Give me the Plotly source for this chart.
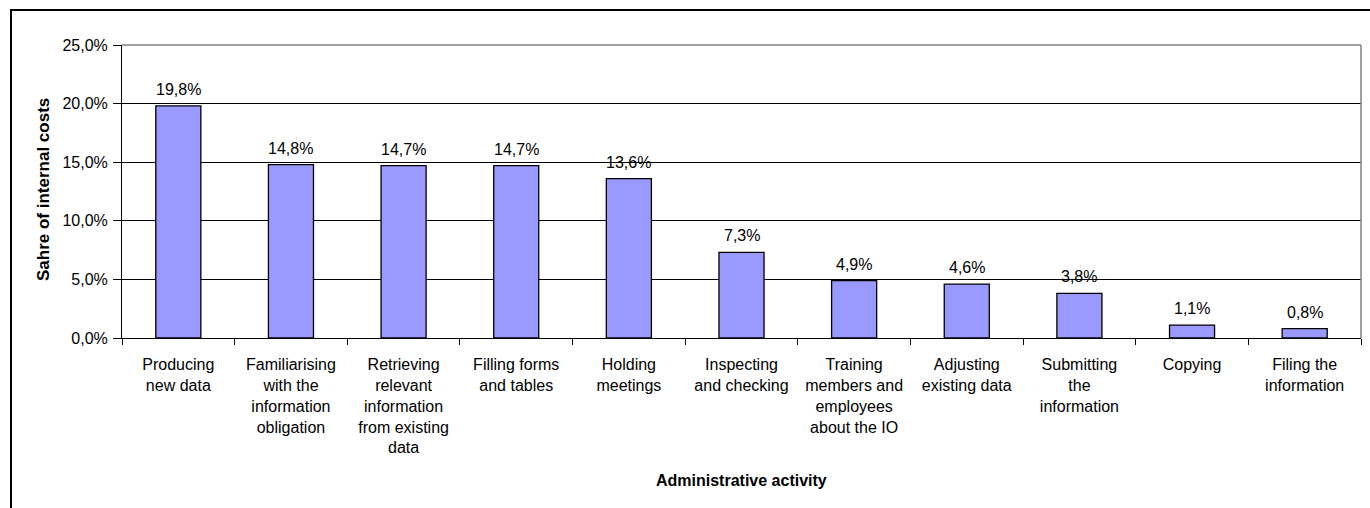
import plotly.graph_objects as go

# Share of internal costs by administrative activity
activities = [
    "Producing<br>new data",
    "Familiarising<br>with the<br>information<br>obligation",
    "Retrieving<br>relevant<br>information<br>from existing<br>data",
    "Filling forms<br>and tables",
    "Holding<br>meetings",
    "Inspecting<br>and checking",
    "Training<br>members and<br>employees<br>about the IO",
    "Adjusting<br>existing data",
    "Submitting<br>the<br>information",
    "Copying",
    "Filing the<br>information",
]
shares = [19.8, 14.8, 14.7, 14.7, 13.6, 7.3, 4.9, 4.6, 3.8, 1.1, 0.8]
y_ticks = [0, 5, 10, 15, 20, 25]
y_tick_labels = [f"{t:.1f}%".replace(".", ",") for t in y_ticks]

W, H = 1370, 508
ML, MR, MT, MB = 122, 9, 45, 170
PW, PH = W - ML - MR, H - MT - MB


def px_x(px):
    return (px - ML) / PW


def px_y(py):
    return (H - MB - py) / PH


FONT = "Liberation Sans, Arial, sans-serif"
FS = 16

fig = go.Figure(
    go.Bar(
        x=activities,
        y=shares,
        marker=dict(color="#9999FF", line=dict(color="black", width=1.3)),
        hoverinfo="skip",
    )
)

# value labels above each bar
for cat, v in zip(activities, shares):
    fig.add_annotation(
        x=cat, y=v, text=f"{v:.1f}%".replace(".", ","),
        showarrow=False, yanchor="bottom", yshift=6,
        font=dict(family=FONT, size=FS, color="black"),
    )

# axis titles
fig.add_annotation(
    xref="paper", yref="paper", x=px_x(43), y=px_y(190),
    xanchor="center", yanchor="middle",
    text="<b>Sahre of internal costs</b>", textangle=-90, showarrow=False,
    font=dict(family=FONT, size=17, color="black"),
)
fig.add_annotation(
    xref="paper", yref="paper", x=0.5, y=px_y(480),
    xanchor="center", yanchor="middle",
    text="<b>Administrative activity</b>", showarrow=False,
    font=dict(family=FONT, size=16, color="black"),
)

# grey plot-area border on top and right
fig.add_shape(type="line", xref="paper", yref="paper", x0=0, x1=1, y0=1, y1=1,
              line=dict(color="#808080", width=1.5), layer="above")
fig.add_shape(type="line", xref="paper", yref="paper", x0=1, x1=1, y0=0, y1=1,
              line=dict(color="#808080", width=1.5), layer="above")

# outer black frame (top and left edges)
fig.add_shape(type="line", xref="paper", yref="paper",
              x0=px_x(10), x1=px_x(1372), y0=px_y(10), y1=px_y(10),
              line=dict(color="black", width=2))
fig.add_shape(type="line", xref="paper", yref="paper",
              x0=px_x(11), x1=px_x(11), y0=px_y(10), y1=px_y(510),
              line=dict(color="black", width=2))

fig.update_layout(
    width=W, height=H,
    margin=dict(l=ML, r=MR, t=MT, b=MB),
    paper_bgcolor="white", plot_bgcolor="white",
    bargap=0.6,
    showlegend=False,
    font=dict(family=FONT, size=FS, color="black"),
    xaxis=dict(
        type="category", tickson="boundaries", ticks="outside", ticklen=6,
        tickcolor="black", showline=True, linecolor="black", linewidth=1,
        showgrid=False, tickfont=dict(family=FONT, size=FS, color="black"),
        tickangle=0, ticklabelstandoff=12,
    ),
    yaxis=dict(
        range=[0, 25], tickvals=y_ticks, ticktext=y_tick_labels,
        ticks="outside", ticklen=8, tickcolor="black",
        showline=True, linecolor="black", linewidth=1,
        showgrid=True, gridcolor="black", gridwidth=1, zeroline=False,
        tickfont=dict(family=FONT, size=FS, color="black"),
        ticklabelstandoff=2,
    ),
)

fig.write_html("out.html")
